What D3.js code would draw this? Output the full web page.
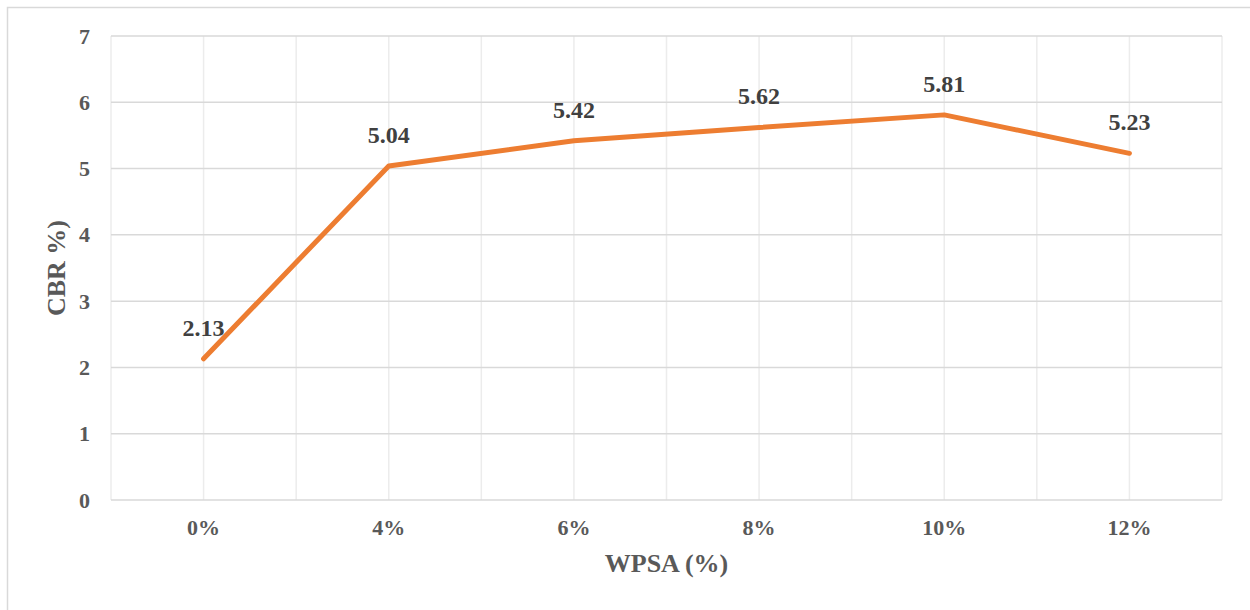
<!DOCTYPE html>
<html>
<head>
<meta charset="utf-8">
<script src="https://cdn.jsdelivr.net/npm/d3@7"></script>
<style>
  html, body { margin: 0; padding: 0; background: #fff; }
  svg { display: block; }
  text { font-family: "Liberation Serif", "Times New Roman", serif; font-weight: bold; }
</style>
</head>
<body>
<svg id="chart" width="1250" height="610"></svg>
<script>
// WPSA content and the measured CBR
const categories = ["0%", "4%", "6%", "8%", "10%", "12%"];
const cbrValues = [2.13, 5.04, 5.42, 5.62, 5.81, 5.23];
const yTicks = [0, 1, 2, 3, 4, 5, 6, 7];

const svg = d3.select("#chart");
const margin = { left: 111, top: 36, right: 28, bottom: 110 };
const W = 1250, H = 610;
const innerW = W - margin.left - margin.right;
const innerH = H - margin.top - margin.bottom;

// outer chart frame
svg.append("rect")
  .attr("x", 7.5).attr("y", 7.5)
  .attr("width", W + 20).attr("height", H + 20)
  .attr("fill", "none").attr("stroke", "#d9d9d9").attr("stroke-width", 1.5);

const g = svg.append("g").attr("transform", `translate(${margin.left},${margin.top})`);

const x = d3.scaleBand().domain(categories).range([0, innerW]).padding(0);
const y = d3.scaleLinear().domain([0, 7]).range([innerH, 0]);

// vertical gridlines: band edges and category centres
const vEdges = d3.range(categories.length + 1).map(i => i * x.bandwidth());
const vCentres = categories.map(c => x(c) + x.bandwidth() / 2);
g.append("g").selectAll("line")
  .data(vEdges.concat(vCentres))
  .join("line")
  .attr("x1", d => d).attr("x2", d => d)
  .attr("y1", 0).attr("y2", innerH)
  .attr("stroke", "#ececec").attr("stroke-width", 1.5);

// horizontal gridlines
g.append("g").selectAll("line")
  .data(yTicks)
  .join("line")
  .attr("x1", 0).attr("x2", innerW)
  .attr("y1", d => y(d)).attr("y2", d => y(d))
  .attr("stroke", "#d9d9d9").attr("stroke-width", 1.5);

// y axis labels
const yAxis = g.append("g")
  .call(d3.axisLeft(y).tickValues(yTicks).tickSize(0).tickPadding(21).tickFormat(d3.format("d")));
yAxis.select(".domain").remove();
yAxis.selectAll("text")
  .attr("fill", "#595959").style("font-size", "22px");

// x axis labels
const xAxis = g.append("g").attr("transform", `translate(0,${innerH})`)
  .call(d3.axisBottom(x).tickSize(0).tickPadding(19));
xAxis.select(".domain").remove();
xAxis.selectAll("text")
  .attr("fill", "#595959").style("font-size", "22px");

// the line
const line = d3.line()
  .x((d, i) => x(categories[i]) + x.bandwidth() / 2)
  .y(d => y(d));
g.append("path")
  .datum(cbrValues)
  .attr("d", line)
  .attr("fill", "none")
  .attr("stroke", "#ED7D31")
  .attr("stroke-width", 5)
  .attr("stroke-linecap", "round")
  .attr("stroke-linejoin", "round");

// value labels
g.append("g").selectAll("text")
  .data(cbrValues)
  .join("text")
  .attr("x", (d, i) => x(categories[i]) + x.bandwidth() / 2)
  .attr("y", d => y(d) - 23)
  .attr("text-anchor", "middle")
  .attr("fill", "#404040")
  .style("font-size", "24px")
  .text(d => d.toFixed(2));

// axis titles
svg.append("text")
  .attr("x", margin.left + innerW / 2)
  .attr("y", 572)
  .attr("text-anchor", "middle")
  .attr("fill", "#595959")
  .style("font-size", "26px")
  .text("WPSA (%)");

svg.append("text")
  .attr("transform", `translate(65,${margin.top + innerH / 2}) rotate(-90)`)
  .attr("text-anchor", "middle")
  .attr("fill", "#595959")
  .style("font-size", "26px")
  .text("CBR %)");
</script>
</body>
</html>
